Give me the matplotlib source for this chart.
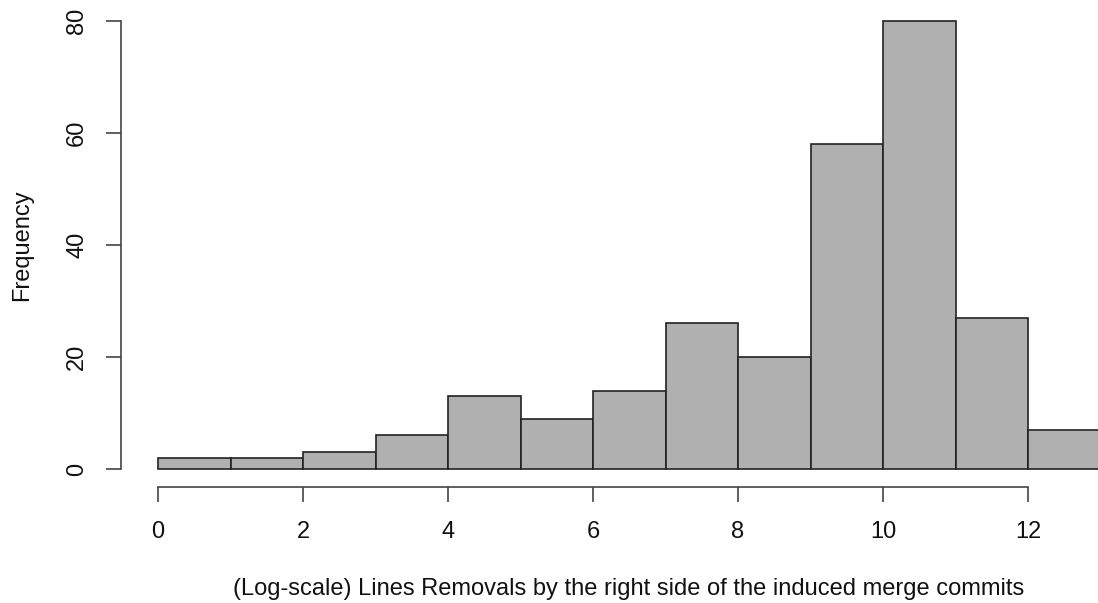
import matplotlib
matplotlib.use("Agg")
import matplotlib.pyplot as plt
import numpy as np

# Histogram bins (log-scale line removals) and their counts
bin_edges = [0, 1, 2, 3, 4, 5, 6, 7, 8, 9, 10, 11, 12, 13]
counts = [2, 2, 3, 6, 13, 9, 14, 26, 20, 58, 80, 27, 7]
x_ticks = [0, 2, 4, 6, 8, 10, 12]
y_ticks = [0, 20, 40, 60, 80]
x_label = "(Log-scale) Lines Removals by the right side of the induced merge commits"
y_label = "Frequency"

plt.rcParams["font.family"] = ["Liberation Sans", "DejaVu Sans"]

W, H = 1098, 603
DPI = 100
PT = 72 / DPI  # points per pixel
fig = plt.figure(figsize=(W / DPI, H / DPI), dpi=DPI)

# plot region in pixels: x=0 at 158px, 1 unit = 72.5px; y=0 at 469px, 80 at 21px
left_px, right_px = 158, W
top_px, bottom_px = 21, 469
ax = fig.add_axes([left_px / W, (H - bottom_px) / H,
                   (right_px - left_px) / W, (bottom_px - top_px) / H])
ax.set_xlim(0, (right_px - left_px) / 72.5)
ax.set_ylim(0, 80)

edges = np.array(bin_edges, dtype=float)
ax.bar(edges[:-1], counts, width=np.diff(edges), align="edge",
       color="#b0b0b0", edgecolor="#222222", linewidth=1.2, clip_on=False)

for s in ["top", "right"]:
    ax.spines[s].set_visible(False)
ax.spines["left"].set_position(("outward", 37 * PT))
ax.spines["left"].set_bounds(0, 80)
ax.spines["bottom"].set_position(("outward", 18 * PT))
ax.spines["bottom"].set_bounds(0, 12)
for s in ["left", "bottom"]:
    ax.spines[s].set_color("#444444")
    ax.spines[s].set_linewidth(1.2)

FS = 17
ax.set_xticks(x_ticks)
ax.set_yticks(y_ticks)
ax.tick_params(axis="both", length=15 * PT, width=1.2, color="#444444",
               labelsize=FS, labelcolor="#111111")
ax.tick_params(axis="x", pad=19 * PT)
ax.tick_params(axis="y", pad=18 * PT, labelrotation=90)
for lbl in ax.get_yticklabels():
    lbl.set_va("center")

fig.text(629 / W, 1 - 589 / H, x_label, ha="center", va="center",
         fontsize=FS, color="#111111")
fig.text(22 / W, 1 - 245 / H, y_label, ha="center", va="center",
         rotation=90, fontsize=FS, color="#111111")

fig.savefig("out.png", dpi=DPI)
